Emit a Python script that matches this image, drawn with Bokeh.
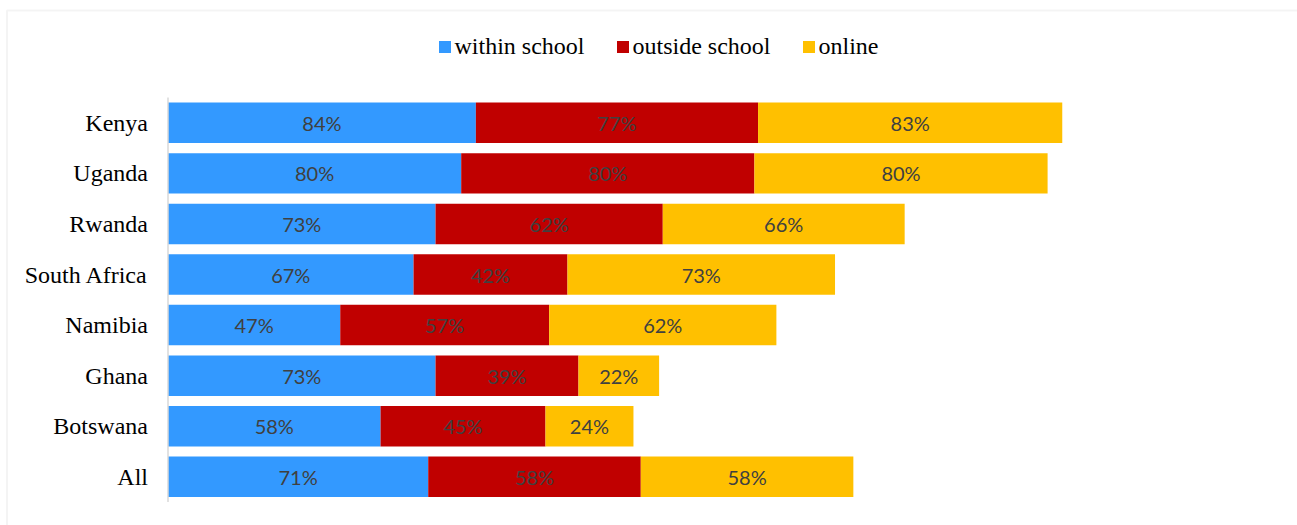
from bokeh.plotting import figure
from bokeh.models import (ColumnDataSource, Legend, LegendItem, LabelSet,
                          BoxAnnotation, Range1d)
from bokeh.embed import file_html
from bokeh.resources import INLINE
from bokeh.core.properties import value

countries = ["Kenya", "Uganda", "Rwanda", "South Africa", "Namibia", "Ghana", "Botswana", "All"]
within_school = [84, 80, 73, 67, 47, 73, 58, 71]
outside_school = [77, 80, 62, 42, 57, 39, 45, 58]
online = [83, 80, 66, 73, 62, 22, 24, 58]
series_names = ["within school", "outside school", "online"]
series_keys = ["within", "outside", "online"]
colors = ["#3399FF", "#C00000", "#FFC000"]

n = len(countries)
ypos = [n - 1 - i for i in range(n)]  # Kenya on top

src = ColumnDataSource(dict(country=countries, y=ypos, within=within_school,
                            outside=outside_school, online=online))

W, H = 1297, 525
# frame covers the whole canvas; ranges chosen so value 0 sits at x=167.5px
px_per_unit_x = 3.665
px_per_cat = 50.57
x0_px = 167.5
top_cat_px = 122.3
p = figure(width=W, height=H,
           x_range=Range1d(-x0_px / px_per_unit_x, (W - x0_px) / px_per_unit_x),
           y_range=Range1d((n - 1) - (H - top_cat_px) / px_per_cat,
                           (n - 1) + top_cat_px / px_per_cat),
           x_axis_location=None, y_axis_location=None,
           output_backend="svg", toolbar_location=None,
           min_border=0)

renderers = p.hbar_stack(series_keys, y="y", height=0.8, color=colors,
                         line_color=None, source=src)

# category axis line and labels
p.segment(x0=[0], y0=[-0.5], x1=[0], y1=[n - 0.5], line_color="#d9d9d9", line_width=1.5)
p.text(x=[0] * n, y=ypos, text=countries, x_offset=-20,
       text_align="right", text_baseline="middle",
       text_font=value("Liberation Serif"), text_font_size="24px", text_color="#000000")

# value labels at segment centres (derived from the data)
lab_x, lab_y, lab_t = [], [], []
for i in range(n):
    left = 0
    for arr in (within_school, outside_school, online):
        v = arr[i]
        lab_x.append(left + v / 2)
        lab_y.append(ypos[i])
        lab_t.append(f"{v}%")
        left += v
lsrc = ColumnDataSource(dict(x=lab_x, y=lab_y, t=lab_t))
labels = LabelSet(x="x", y="y", text="t", source=lsrc,
                  text_align="center", text_baseline="middle",
                  text_font=value("Lato"), text_font_size="20px",
                  text_color="#404040")
p.add_layout(labels)

legend = Legend(items=[LegendItem(label=s, renderers=[r]) for s, r in zip(series_names, renderers)],
                orientation="horizontal", location=(436.5, 465),
                glyph_width=15, glyph_height=15, label_standoff=3, spacing=30,
                label_text_font="Liberation Serif", label_text_font_size="24px",
                label_text_color="#000000", padding=0, margin=0,
                border_line_color=None, background_fill_alpha=0)
p.add_layout(legend, "center")

border = BoxAnnotation(left=6.5, right=1400, top=10, bottom=1000,
                       left_units="canvas", right_units="canvas",
                       top_units="canvas", bottom_units="canvas",
                       fill_color=None, fill_alpha=0, line_color="#d9d9d9", line_width=2)
p.add_layout(border)

p.xgrid.visible = False
p.ygrid.visible = False
p.outline_line_color = None

open("out.html", "w").write(file_html(p, INLINE))
